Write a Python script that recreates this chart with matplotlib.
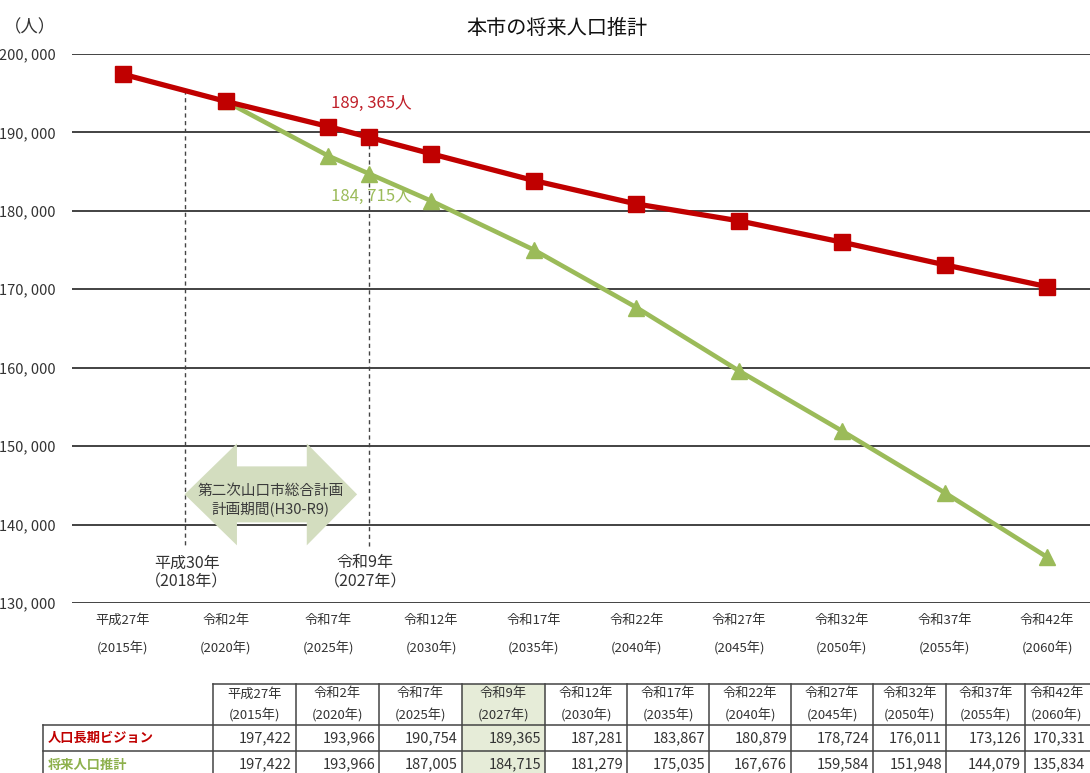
import matplotlib
matplotlib.use("Agg")
import matplotlib.pyplot as plt
from matplotlib.patches import Polygon, Rectangle

plt.rcParams['font.family'] = ['Noto Sans CJK JP', 'DejaVu Sans']

# ---- data ----
years = [2015, 2020, 2025, 2027, 2030, 2035, 2040, 2045, 2050, 2055, 2060]
era_labels = ["平成27年", "令和2年", "令和7年", "令和9年", "令和12年", "令和17年",
              "令和22年", "令和27年", "令和32年", "令和37年", "令和42年"]
vision = [197422, 193966, 190754, 189365, 187281, 183867, 180879, 178724,
          176011, 173126, 170331]
estimate = [197422, 193966, 187005, 184715, 181279, 175035, 167676, 159584,
            151948, 144079, 135834]
axis_years = [2015, 2020, 2025, 2030, 2035, 2040, 2045, 2050, 2055, 2060]
axis_era = ["平成27年", "令和2年", "令和7年", "令和12年", "令和17年",
            "令和22年", "令和27年", "令和32年", "令和37年", "令和42年"]
yticks = [130000, 140000, 150000, 160000, 170000, 180000, 190000, 200000]
plan_start, plan_end = 2018, 2027
series_names = ["人口長期ビジョン", "将来人口推計"]

RED = "#C00000"
GREEN = "#9BBB59"
TXT = "#333333"

W, H = 1090, 773
fig = plt.figure(figsize=(W / 100, H / 100), dpi=100)


def fx(px):
    return px / W


def fy(py):
    return 1 - py / H


ax = fig.add_axes([fx(72), fy(603), fx(1090) - fx(72), fy(54) - fy(603)])
ax.set_xlim(2012.52, 2062.08)
ax.set_ylim(130000, 200000)
for s in ax.spines.values():
    s.set_visible(False)
ax.set_xticks([])
ax.set_yticks(yticks)
ax.set_yticklabels([f"{v:,}".replace(",", ", ") for v in yticks],
                   fontsize=10.5, color=TXT)
ax.tick_params(axis="y", length=0, pad=12)
for v in yticks:
    ax.axhline(v, color="#222222", lw=1.2, zorder=1)

# x axis labels in two rows
for yr, lab in zip(axis_years, axis_era):
    ax.annotate(lab, xy=(yr, 0), xycoords=ax.get_xaxis_transform(),
                xytext=(0, -12.5), textcoords="offset points",
                ha="center", va="center", fontsize=9.5, color=TXT,
                annotation_clip=False)
    ax.annotate(f"({yr}年)", xy=(yr, 0), xycoords=ax.get_xaxis_transform(),
                xytext=(0, -32.5), textcoords="offset points",
                ha="center", va="center", fontsize=9.5, color=TXT,
                annotation_clip=False)


# planning-period markers
def vision_at(yr):
    for i in range(len(years) - 1):
        if years[i] <= yr <= years[i + 1]:
            t = (yr - years[i]) / (years[i + 1] - years[i])
            return vision[i] + t * (vision[i + 1] - vision[i])
    return vision[-1]


for yr in (plan_start, plan_end):
    ax.plot([yr, yr], [vision_at(yr), 137000], ls=(0, (3, 2.5)),
            color="#444444", lw=1.0, zorder=2)

ax.text(2018.1, 133900, "平成30年\n（2018年）", ha="center", va="center",
        fontsize=11.5, color=TXT, linespacing=1.15)
ax.text(2026.8, 133900, "令和9年\n（2027年）", ha="center", va="center",
        fontsize=11.5, color=TXT, linespacing=1.15)

# double-headed arrow for the plan period
ax_l, ax_r = 2018.0, 2026.4
hb_l, hb_r = 2020.55, 2023.95
yc, hh, sh = 143850, 6500, 3570
arrow = Polygon([(ax_l, yc), (hb_l, yc + hh), (hb_l, yc + sh), (hb_r, yc + sh),
                 (hb_r, yc + hh), (ax_r, yc), (hb_r, yc - hh), (hb_r, yc - sh),
                 (hb_l, yc - sh), (hb_l, yc - hh)],
                closed=True, facecolor="#D3DDBF", edgecolor="none", zorder=3)
ax.add_patch(arrow)
ax.text(2022.2, 144280, "第二次山口市総合計画", ha="center", va="center",
        fontsize=10.5, color="#3a3a3a", zorder=4)
ax.text(2022.2, 141990, "計画期間(H30-R9)", ha="center", va="center",
        fontsize=10.5, color="#3a3a3a", zorder=4)

# series
ax.plot(years[1:], estimate[1:], color=GREEN, lw=3.3, marker="^",
        markersize=11.5, markerfacecolor=GREEN, markeredgecolor=GREEN, zorder=5)
ax.plot(years, vision, color=RED, lw=3.8, marker="s", markersize=12,
        markerfacecolor=RED, markeredgecolor=RED, zorder=6)

i9 = years.index(plan_end)
ax.annotate(f"{vision[i9]:,}人".replace(",", ", "), xy=(plan_end, vision[i9]),
            xytext=(-28, 24.5), textcoords="offset points", ha="left",
            va="center", fontsize=12, color="#C0202A", zorder=7)
ax.annotate(f"{estimate[i9]:,}人".replace(",", ", "),
            xy=(plan_end, estimate[i9]), xytext=(-28, -16),
            textcoords="offset points", ha="left", va="center",
            fontsize=12, color=GREEN, zorder=7)

# title and unit
fig.text(fx(557), fy(28), "本市の将来人口推計", ha="center", va="center",
         fontsize=14.5, color="#111111")
fig.text(fx(30), fy(27), "（人）", ha="center", va="center", fontsize=12.5,
         color=TXT)

# ---- data table ----
col_edges = [213, 296, 379, 462, 545, 627, 709, 791, 873, 946, 1025, 1089]
row_edges = [684, 725, 751, 778]
label_left = 43
shade_col = years.index(plan_end)
line_kw = dict(color="#444444", lw=1.1)


def hline(x0, x1, y):
    fig.add_artist(plt.Line2D([fx(x0), fx(x1)], [fy(y), fy(y)], **line_kw))


def vline(x, y0, y1):
    fig.add_artist(plt.Line2D([fx(x), fx(x)], [fy(y0), fy(y1)], **line_kw))


# shaded column
x0, x1 = col_edges[shade_col], col_edges[shade_col + 1]
fig.add_artist(Rectangle((fx(x0), fy(row_edges[-1])), fx(x1) - fx(x0),
                         fy(row_edges[0]) - fy(row_edges[-1]),
                         facecolor="#E6ECD8", edgecolor="none"))

hline(col_edges[0], 1090, row_edges[0])
for y in row_edges[1:]:
    hline(label_left, 1090, y)
vline(label_left, row_edges[1], row_edges[-1])
for x in col_edges[:-1]:
    vline(x, row_edges[0], row_edges[-1])

for i, (lab, yr) in enumerate(zip(era_labels, years)):
    cx = (col_edges[i] + col_edges[i + 1]) / 2
    fig.text(fx(cx), fy(694), lab, ha="center", va="center", fontsize=9.5,
             color=TXT)
    fig.text(fx(cx), fy(716), f"({yr}年)", ha="center", va="center",
             fontsize=9.5, color=TXT)

rows = [(series_names[0], vision, RED), (series_names[1], estimate, "#8DB04C")]
for r, (name, vals, col) in enumerate(rows):
    cy = (row_edges[r + 1] + row_edges[r + 2]) / 2
    fig.text(fx(label_left + 5), fy(cy), name, ha="left", va="center",
             fontsize=9.5, color=col, fontweight="bold")
    for i, v in enumerate(vals):
        fig.text(fx(col_edges[i + 1] - 4), fy(cy), f"{v:,}", ha="right",
                 va="center", fontsize=10.5, color=TXT)

fig.savefig("out.png", dpi=100)
